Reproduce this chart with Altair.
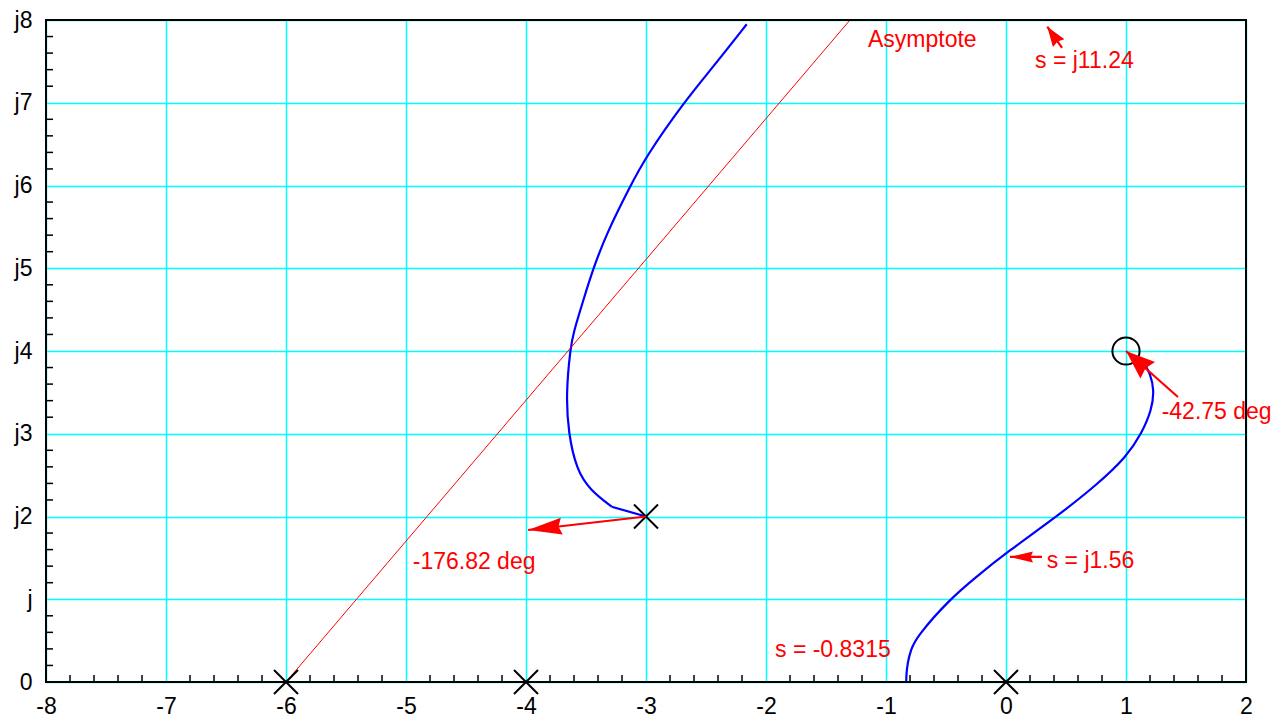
import math
import altair as alt
import pandas as pd

# ---------------- data ----------------
X_DOMAIN = [-8, 2]
Y_DOMAIN = [0, 8]
X_TICKS = list(range(-8, 3))
Y_TICKS = list(range(0, 9))
Y_TICK_LABELS = ["0", "j", "j2", "j3", "j4", "j5", "j6", "j7", "j8"]

# short straight piece leaving the complex pole -3+j2
LOCUS0_RE = [-3.0, -3.286]
LOCUS0_IM = [2.0, 2.118]

# root-locus branch continuing upward toward the asymptote
LOCUS1_RE = [-3.286, -3.467, -3.578, -3.647, -3.667, -3.628, -3.606, -3.522,
             -3.439, -3.328, -3.128, -3.0, -2.689, -2.439, -2.161]
LOCUS1_IM = [2.118, 2.32, 2.562, 3.005, 3.489, 4.052, 4.214, 4.616,
             5.0, 5.422, 6.002, 6.348, 6.997, 7.436, 7.948]

# branch from the break-away point to the zero 1+j4
LOCUS2_RE = [-0.8315, -0.83, -0.82, -0.794, -0.744, -0.47, -0.24, 0.0, 0.422, 0.756,
             1.006, 1.131, 1.214, 1.236, 1.2, 1.16]
LOCUS2_IM = [0.0, 0.1, 0.23, 0.387, 0.548, 1.0, 1.28, 1.56, 1.998, 2.381,
             2.723, 3.005, 3.287, 3.529, 3.73, 3.83]

POLES_RE = [-6, -4, 0, -3]
POLES_IM = [0, 0, 0, 2]
ZEROS_RE = [1]
ZEROS_IM = [4]

ASYM_RE = [-6.0, -1.3]
ASYM_IM = [0.0, 8.0]

ARROW_TAIL_RE = [-3.0, 1.433, 0.467, 0.30]
ARROW_TAIL_IM = [2.0, 3.444, 7.662, 1.511]
ARROW_TIP_RE = [-3.983, 1.0, 0.344, 0.033]
ARROW_TIP_IM = [1.837, 4.0, 7.919, 1.511]

LABEL_TEXT = ["Asymptote", "s = j11.24", "-42.75 deg", "-176.82 deg", "s = j1.56", "s = -0.8315"]
LABEL_RE = [-1.15, 0.242, 1.297, -4.944, 0.339, -1.925]
LABEL_IM = [7.677, 7.42, 3.178, 1.366, 1.378, 0.306]

# ---------------- styles / layout ----------------
W, H = 1200, 662
FONT = "Liberation Sans"
FS = 23
RED = "#ff0000"
BLUE = "#0000ff"
CYAN = "#00ffff"
HEAD_LEN = [34, 29, 20, 23]
HEAD_HALF = [8.5, 11, 7, 5.5]

px_x = W / (X_DOMAIN[1] - X_DOMAIN[0])
px_y = H / (Y_DOMAIN[1] - Y_DOMAIN[0])

xscale = alt.Scale(domain=X_DOMAIN, nice=False, zero=False)
yscale = alt.Scale(domain=Y_DOMAIN, nice=False, zero=False)

xaxis = alt.Axis(values=X_TICKS, grid=True, gridColor=CYAN, gridWidth=1.5, gridOpacity=1,
                 ticks=False, domain=False, labelFont=FONT, labelFontSize=FS,
                 labelColor="black", labelPadding=13, labelFlush=False,
                 labelOverlap=False, labelExpr="'' + datum.value", title=None)
ylabels_js = "[" + ",".join("'%s'" % s for s in Y_TICK_LABELS) + "]"
yaxis = alt.Axis(values=Y_TICKS, grid=True, gridColor=CYAN, gridWidth=1.5, gridOpacity=1,
                 ticks=False, domain=False, labelFont=FONT, labelFontSize=FS,
                 labelColor="black", labelPadding=14, labelFlush=False,
                 labelOverlap=False, labelExpr=ylabels_js + "[datum.value]", title=None)


def X(f):
    return alt.X(f, type="quantitative", scale=xscale, axis=xaxis)


def Y(f):
    return alt.Y(f, type="quantitative", scale=yscale, axis=yaxis)


def rows(branch, res, ims):
    return [{"branch": branch, "i": i, "re": r, "im": m} for i, (r, m) in enumerate(zip(res, ims))]


# ---------------- tables ----------------
locus_straight = pd.DataFrame(rows("b0", LOCUS0_RE, LOCUS0_IM))
locus_curved = pd.DataFrame(rows("b1", LOCUS1_RE, LOCUS1_IM) + rows("b2", LOCUS2_RE, LOCUS2_IM))
poles = pd.DataFrame({"re": POLES_RE, "im": POLES_IM})
zeros = pd.DataFrame({"re": ZEROS_RE, "im": ZEROS_IM})
asym = pd.DataFrame({"re": ASYM_RE, "im": ASYM_IM})
frame = pd.DataFrame({"x": [X_DOMAIN[0]], "x2": [X_DOMAIN[1]], "y": [Y_DOMAIN[0]], "y2": [Y_DOMAIN[1]]})
minor_x = pd.DataFrame({"v": [k / 5 for k in range(X_DOMAIN[0] * 5, X_DOMAIN[1] * 5 + 1) if k % 5 != 0],
                        "base": Y_DOMAIN[0]})
minor_y = pd.DataFrame({"v": [k / 5 for k in range(Y_DOMAIN[0] * 5, Y_DOMAIN[1] * 5 + 1) if k % 5 != 0],
                        "base": X_DOMAIN[0]})
labels = pd.DataFrame({"t": LABEL_TEXT, "re": LABEL_RE, "im": LABEL_IM})

# ---------------- layers ----------------
layers = []

layers.append(alt.Chart(locus_straight).mark_line(color=BLUE, strokeWidth=2.2).encode(
    x=X("re"), y=Y("im"), detail="branch:N", order=alt.Order("i:Q")))
layers.append(alt.Chart(locus_curved).mark_line(color=BLUE, strokeWidth=2.2, interpolate="basis").encode(
    x=X("re"), y=Y("im"), detail="branch:N", order=alt.Order("i:Q")))

layers.append(alt.Chart(asym).mark_line(color=RED, strokeWidth=1).encode(x=X("re"), y=Y("im")))

layers.append(alt.Chart(frame).mark_rect(fillOpacity=0, stroke="black", strokeWidth=2).encode(
    x=X("x"), x2="x2", y=Y("y"), y2="y2"))

layers.append(alt.Chart(minor_x).mark_tick(orient="vertical", size=7, thickness=1.5, color="black",
                                           opacity=1, yOffset=-3.5).encode(x=X("v"), y=Y("base")))
layers.append(alt.Chart(minor_y).mark_tick(orient="horizontal", size=7, thickness=1.5, color="black",
                                           opacity=1, xOffset=3.5).encode(x=X("base"), y=Y("v")))

layers.append(alt.Chart(poles).mark_point(shape="M-1,-1L1,1M-1,1L1,-1", size=576, filled=False,
                                          color="black", strokeWidth=2, opacity=1).encode(
    x=X("re"), y=Y("im")))
layers.append(alt.Chart(zeros).mark_point(shape="circle", size=740, filled=False, color="black",
                                          strokeWidth=2, opacity=1).encode(x=X("re"), y=Y("im")))

for i in range(len(ARROW_TIP_RE)):
    row = pd.DataFrame({"x": [ARROW_TAIL_RE[i]], "y": [ARROW_TAIL_IM[i]],
                        "x2": [ARROW_TIP_RE[i]], "y2": [ARROW_TIP_IM[i]]})
    dx = (ARROW_TIP_RE[i] - ARROW_TAIL_RE[i]) * px_x
    dy = -(ARROW_TIP_IM[i] - ARROW_TAIL_IM[i]) * px_y
    ang = math.degrees(math.atan2(dx, -dy)) % 360
    L = HEAD_LEN[i]
    w = HEAD_HALF[i] / (L / 2)
    path = "M0,0L%.3f,2L0,1.8L%.3f,2Z" % (w, -w)
    layers.append(alt.Chart(row).mark_rule(color=RED, strokeWidth=2.2).encode(
        x=X("x"), y=Y("y"), x2="x2", y2="y2"))
    layers.append(alt.Chart(row).mark_point(shape=path, size=L * L, filled=True, color=RED, opacity=1,
                                            strokeWidth=0, angle=ang).encode(x=X("x2"), y=Y("y2")))

layers.append(alt.Chart(labels).mark_text(align="left", baseline="alphabetic", font=FONT, fontSize=FS,
                                          color=RED).encode(x=X("re"), y=Y("im"), text="t:N"))

chart = alt.layer(*layers).properties(
    width=W, height=H,
    autosize=alt.AutoSizeParams(type="none"),
    padding={"left": 46, "top": 20, "right": 36, "bottom": 35},
    background="white",
).configure_view(stroke="black", strokeWidth=2)

chart.save("out.html", embed_options={"renderer": "svg", "actions": False})
